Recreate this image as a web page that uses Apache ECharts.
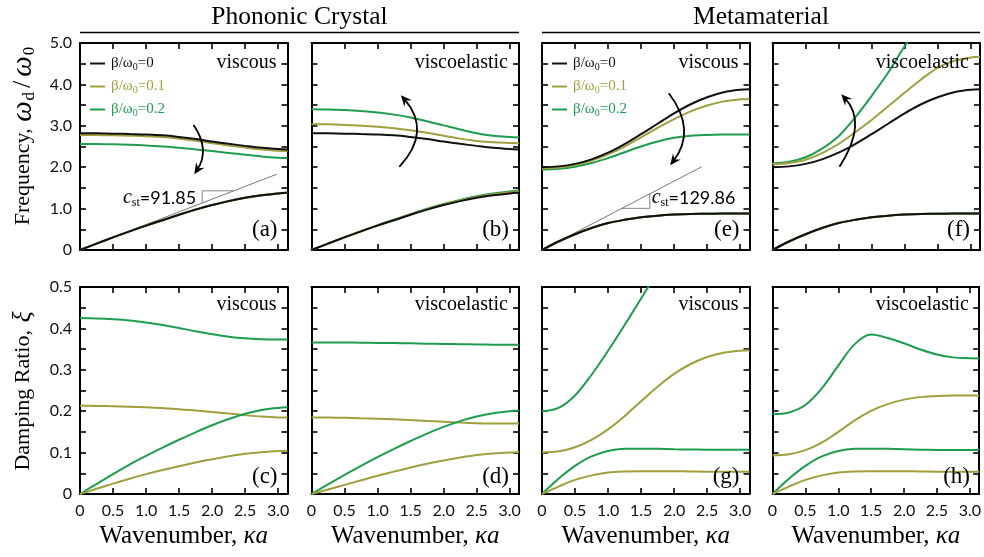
<!DOCTYPE html>
<html><head><meta charset="utf-8">
<script src="https://cdn.jsdelivr.net/npm/echarts@6/dist/echarts.min.js"></script>
<style>html,body{margin:0;padding:0;background:#fff}#c{width:984px;height:557px}</style>
</head><body><div id="c"></div>
<script>
// ---------- DATA ----------
const ka = [0, 0.25, 0.5, 0.75, 1.0, 1.25, 1.5, 1.75, 2.0, 2.25, 2.5, 2.75, 3.0, 3.14159];
const seriesNames = ['β/ω₀=0', 'β/ω₀=0.1', 'β/ω₀=0.2'];
const headerTexts = ['Phononic Crystal', 'Metamaterial'];
const panelLetters = ['(a)', '(b)', '(e)', '(f)', '(c)', '(d)', '(g)', '(h)'];
const panelTypes = ['viscous', 'viscoelastic', 'viscous', 'viscoelastic', 'viscous', 'viscoelastic', 'viscous', 'viscoelastic'];
const freqTicks = [0, 1, 2, 3, 4, 5];
const dampTicks = [0, 0.1, 0.2, 0.3, 0.4, 0.5];
const kaTicks = [0, 0.5, 1.0, 1.5, 2.0, 2.5, 3.0];

// (a) phononic crystal, viscous – frequency
const aOpt0 = [2.82, 2.818, 2.81, 2.80, 2.79, 2.77, 2.73, 2.68, 2.62, 2.565, 2.515, 2.47, 2.44, 2.43];
const aOpt1 = [2.78, 2.778, 2.77, 2.76, 2.75, 2.73, 2.69, 2.64, 2.58, 2.525, 2.475, 2.43, 2.40, 2.39];
const aOpt2 = [2.56, 2.558, 2.552, 2.542, 2.525, 2.50, 2.47, 2.43, 2.39, 2.345, 2.30, 2.26, 2.23, 2.22];
const aAc0 = [0, 0.154, 0.305, 0.45, 0.59, 0.72, 0.85, 0.975, 1.085, 1.18, 1.26, 1.32, 1.365, 1.38];
const aAc1 = [0, 0.154, 0.305, 0.45, 0.59, 0.72, 0.85, 0.975, 1.085, 1.18, 1.26, 1.32, 1.367, 1.385];
const aAc2 = [0, 0.154, 0.306, 0.451, 0.591, 0.722, 0.852, 0.977, 1.088, 1.183, 1.263, 1.325, 1.372, 1.39];
// (b) phononic crystal, viscoelastic – frequency
const bOpt0 = [2.82, 2.818, 2.81, 2.80, 2.79, 2.77, 2.73, 2.68, 2.62, 2.565, 2.515, 2.47, 2.44, 2.43];
const bOpt1 = [3.04, 3.035, 3.022, 3.003, 2.977, 2.94, 2.89, 2.83, 2.76, 2.69, 2.635, 2.60, 2.585, 2.58];
const bOpt2 = [3.40, 3.395, 3.38, 3.355, 3.32, 3.27, 3.20, 3.11, 3.01, 2.91, 2.82, 2.76, 2.73, 2.72];
const bAc0 = [0, 0.154, 0.305, 0.45, 0.59, 0.72, 0.85, 0.975, 1.085, 1.18, 1.26, 1.32, 1.365, 1.38];
const bAc1 = [0, 0.155, 0.307, 0.453, 0.594, 0.726, 0.857, 0.985, 1.097, 1.195, 1.28, 1.345, 1.39, 1.41];
const bAc2 = [0, 0.156, 0.31, 0.457, 0.60, 0.733, 0.866, 0.995, 1.11, 1.21, 1.297, 1.365, 1.415, 1.44];
// (e) metamaterial, viscous – frequency
const eOpt0 = [2.00, 2.02, 2.08, 2.19, 2.35, 2.56, 2.80, 3.05, 3.30, 3.52, 3.69, 3.81, 3.87, 3.88];
const eOpt1 = [1.97, 1.99, 2.05, 2.16, 2.31, 2.50, 2.72, 2.95, 3.16, 3.35, 3.49, 3.59, 3.64, 3.65];
const eOpt2 = [1.94, 1.96, 2.01, 2.10, 2.22, 2.36, 2.50, 2.62, 2.71, 2.76, 2.78, 2.79, 2.79, 2.79];
const eAc0 = [0, 0.205, 0.38, 0.53, 0.65, 0.73, 0.79, 0.83, 0.855, 0.87, 0.875, 0.88, 0.88, 0.88];
const eAc1 = [0, 0.205, 0.38, 0.53, 0.65, 0.73, 0.79, 0.83, 0.855, 0.87, 0.875, 0.88, 0.88, 0.88];
const eAc2 = [0, 0.205, 0.38, 0.53, 0.65, 0.73, 0.79, 0.83, 0.855, 0.87, 0.875, 0.88, 0.88, 0.88];
// (f) metamaterial, viscoelastic – frequency
const fOpt0 = [2.00, 2.02, 2.08, 2.19, 2.35, 2.56, 2.80, 3.05, 3.30, 3.52, 3.69, 3.81, 3.87, 3.88];
const fOpt1 = [2.07, 2.10, 2.18, 2.34, 2.56, 2.84, 3.14, 3.47, 3.80, 4.12, 4.40, 4.57, 4.65, 4.67];
const fOpt2 = [2.09, 2.13, 2.24, 2.45, 2.75, 3.20, 3.72, 4.28, 4.92, 5.50, 6.00];
const fAc0 = [0, 0.205, 0.38, 0.53, 0.65, 0.73, 0.79, 0.83, 0.855, 0.87, 0.875, 0.88, 0.88, 0.88];
const fAc1 = [0, 0.205, 0.38, 0.53, 0.65, 0.73, 0.79, 0.83, 0.855, 0.87, 0.875, 0.88, 0.88, 0.88];
const fAc2 = [0, 0.205, 0.38, 0.53, 0.65, 0.73, 0.79, 0.83, 0.855, 0.87, 0.875, 0.88, 0.88, 0.88];
// (c) phononic crystal, viscous – damping
const cUp1 = [0.213, 0.2128, 0.212, 0.211, 0.2095, 0.2075, 0.205, 0.2015, 0.198, 0.1945, 0.1905, 0.187, 0.1848, 0.1845];
const cUp2 = [0.425, 0.424, 0.422, 0.419, 0.414, 0.408, 0.401, 0.393, 0.386, 0.380, 0.376, 0.374, 0.373, 0.373];
const cLo1 = [0, 0.0125, 0.025, 0.037, 0.048, 0.058, 0.067, 0.076, 0.084, 0.091, 0.097, 0.101, 0.104, 0.1045];
const cLo2 = [0, 0.024, 0.048, 0.071, 0.092, 0.112, 0.131, 0.149, 0.166, 0.181, 0.194, 0.203, 0.208, 0.2095];
// (d) phononic crystal, viscoelastic – damping
const dUp1 = [0.1846, 0.1845, 0.184, 0.183, 0.182, 0.1805, 0.1785, 0.1765, 0.1745, 0.1725, 0.171, 0.1703, 0.170, 0.170];
const dUp2 = [0.366, 0.366, 0.3658, 0.3655, 0.365, 0.3645, 0.364, 0.3632, 0.3625, 0.3618, 0.3612, 0.3607, 0.3605, 0.3605];
const dLo1 = [0, 0.011, 0.022, 0.033, 0.044, 0.054, 0.064, 0.073, 0.081, 0.088, 0.094, 0.098, 0.1005, 0.101];
const dLo2 = [0, 0.023, 0.046, 0.068, 0.089, 0.109, 0.128, 0.146, 0.162, 0.176, 0.187, 0.195, 0.2, 0.2014];
// (g) metamaterial, viscous – damping
const gUp1 = [0.100, 0.103, 0.113, 0.131, 0.156, 0.188, 0.224, 0.259, 0.290, 0.314, 0.331, 0.341, 0.346, 0.347];
const gUp2 = [0.200, 0.208, 0.238, 0.288, 0.346, 0.408, 0.472, 0.537, 0.602];
const gLo1 = [0, 0.018, 0.034, 0.045, 0.052, 0.0545, 0.055, 0.055, 0.0548, 0.0545, 0.054, 0.054, 0.054, 0.054];
const gLo2 = [0, 0.037, 0.068, 0.091, 0.104, 0.109, 0.1095, 0.109, 0.108, 0.1075, 0.107, 0.107, 0.107, 0.107];
// (h) metamaterial, viscoelastic – damping
const hUp1 = [0.093, 0.096, 0.106, 0.124, 0.150, 0.178, 0.201, 0.217, 0.228, 0.234, 0.237, 0.238, 0.238, 0.238];
const hUp2 = [0.193, 0.197, 0.215, 0.255, 0.310, 0.362, 0.385, 0.377, 0.364, 0.349, 0.337, 0.330, 0.328, 0.3275];
const hLo1 = [0, 0.018, 0.034, 0.045, 0.052, 0.0545, 0.055, 0.055, 0.0548, 0.0545, 0.054, 0.054, 0.054, 0.054];
const hLo2 = [0, 0.037, 0.068, 0.091, 0.104, 0.109, 0.1095, 0.109, 0.108, 0.107, 0.1065, 0.106, 0.106, 0.106];

// static-wave-speed annotations (data coordinates)
const cstLineA = [[0, 0], [2.98, 1.83]];
const cstTriA = [[1.85, 1.136], [1.85, 1.43], [2.32, 1.43]];
const cstLineE = [[0, 0], [2.417, 2.01]];
const cstTriE = [[1.206, 1.006], [1.633, 1.006], [1.633, 1.362]];
const cstValues = ['91.85', '129.86'];
const cstAnchors = [[1.76, 1.256], [1.66, 1.256]];
// curved arrows (start, middle, tip) in data coordinates of panels a, b, e, f
const arrowPts = [
  [[1.72, 3.02], [1.85, 2.42], [1.73, 1.83]],
  [[1.33, 2.01], [1.586, 2.87], [1.354, 3.74]],
  [[1.92, 3.785], [2.14, 2.90], [1.94, 2.05]],
  [[1.014, 2.01], [1.237, 2.98], [1.04, 3.76]]
];

// ---------- STYLE / LAYOUT ----------
const COLORS = ['#111111', '#9f9f3e', '#1f9d4f'];
const SERIF = '"Liberation Serif", "DejaVu Serif", serif';
const SANS = 'Lato, "Open Sans", sans-serif';
const gridL = [80, 311.5, 542, 772.5];
const gridW = 207.5;
const gridT = [43, 287];
const gridH = 207;

const panelCurves = [
  [[aOpt2, 2], [aOpt1, 1], [aOpt0, 0], [aAc2, 2], [aAc1, 1], [aAc0, 0]],
  [[bOpt2, 2], [bOpt1, 1], [bOpt0, 0], [bAc2, 2], [bAc1, 1], [bAc0, 0]],
  [[eOpt2, 2], [eOpt1, 1], [eOpt0, 0], [eAc2, 2], [eAc1, 1], [eAc0, 0]],
  [[fOpt2, 2], [fOpt1, 1], [fOpt0, 0], [fAc2, 2], [fAc1, 1], [fAc0, 0]],
  [[cUp2, 2], [cUp1, 1], [cLo2, 2], [cLo1, 1]],
  [[dUp2, 2], [dUp1, 1], [dLo2, 2], [dLo1, 1]],
  [[gUp2, 2], [gUp1, 1], [gLo2, 2], [gLo1, 1]],
  [[hUp2, 2], [hUp1, 1], [hLo2, 2], [hLo1, 1]]
];

const nameRich = {
  n: {fontFamily: SERIF, fontSize: 22, color: '#000', lineHeight: 30},
  i: {fontFamily: SERIF, fontSize: 29, color: '#000', fontStyle: 'italic', lineHeight: 30, padding: [0, 1, 0, 1]},
  x: {fontFamily: SERIF, fontSize: 26, color: '#000', fontStyle: 'italic', lineHeight: 30, padding: [0, 1, 0, 2]},
  sl: {fontFamily: SERIF, fontSize: 26, color: '#000', lineHeight: 30, padding: [0, 3, 0, 3]},
  s: {fontFamily: SERIF, fontSize: 17, color: '#000', lineHeight: 16, verticalAlign: 'bottom', padding: [0, 1, 0, 0]}
};
const xNameRich = {
  n: {fontFamily: SERIF, fontSize: 25, color: '#000'},
  i: {fontFamily: SERIF, fontSize: 25, color: '#000', fontStyle: 'italic'}
};

const grids = [], xAxes = [], yAxes = [], series = [];
const tickStyle = {show: true, inside: true, length: 6, lineStyle: {color: '#000', width: 1.6}};
const lineStyleAx = {show: true, onZero: false, lineStyle: {color: '#000', width: 2}};

for (let g = 0; g < 8; g++) {
  const row = g < 4 ? 0 : 1, col = g % 4;
  grids.push({left: gridL[col], top: gridT[row], width: gridW, height: gridH, containLabel: false});
  const xBase = {gridIndex: g, type: 'value', min: 0, max: Math.PI, interval: 0.5,
    axisLine: lineStyleAx, axisTick: tickStyle, splitLine: {show: false}};
  xAxes.push(Object.assign({}, xBase, {position: 'bottom',
    axisLabel: {show: row === 1, margin: 9, fontFamily: SANS, fontSize: 16, color: '#111',
      formatter: v => v === 0 ? '0' : (kaTicks.some(t => Math.abs(t - v) < 1e-6) ? v.toFixed(1) : '')},
    name: row === 1 ? '{n|Wavenumber, }{i|κa}' : '', nameLocation: 'middle', nameGap: 30,
    nameTextStyle: {rich: xNameRich}}));
  xAxes.push(Object.assign({}, xBase, {position: 'top', axisLabel: {show: false}}));
  const ymax = row === 0 ? 5 : 0.5, yint = row === 0 ? 0.5 : 0.05;
  const yTicks = row === 0 ? freqTicks : dampTicks;
  const yBase = {gridIndex: g, type: 'value', min: 0, max: ymax, interval: yint,
    axisLine: lineStyleAx, axisTick: tickStyle, splitLine: {show: false}};
  const yName = col === 0 ? (row === 0 ? '{n|Frequency, }{i|ω}{s|d}{sl|/}{i|ω}{s|0}' : '{n|Damping Ratio, }{x|ξ}') : '';
  yAxes.push(Object.assign({}, yBase, {position: 'left',
    axisLabel: {show: col === 0, margin: 8, fontFamily: SANS, fontSize: 16, color: '#111',
      formatter: v => v === 0 ? '0' : (yTicks.some(t => Math.abs(t - v) < 1e-6) ? v.toFixed(1) : '')},
    name: yName, nameLocation: 'middle', nameGap: 42,
    nameTextStyle: {rich: nameRich, padding: row === 0 ? [0, 0, 0, 22] : [0, 0, 0, 0]}}));
  yAxes.push(Object.assign({}, yBase, {position: 'right', axisLabel: {show: false}}));

  panelCurves[g].forEach(([vals, ci]) => {
    series.push({
      type: 'line', name: seriesNames[ci], xAxisIndex: 2 * g, yAxisIndex: 2 * g,
      data: vals.map((v, i) => [ka[i], v]), smooth: 0.35, showSymbol: false, symbol: 'none',
      clip: true, silent: true, color: COLORS[ci],
      lineStyle: {color: COLORS[ci], width: 2}, z: 3
    });
  });
}
// c_st guide lines and triangles
[[0, cstLineA, cstTriA], [2, cstLineE, cstTriE]].forEach(([g, ln, tri]) => {
  series.push({type: 'line', name: 'cst', xAxisIndex: 2 * g, yAxisIndex: 2 * g, data: ln,
    showSymbol: false, symbol: 'none', silent: true, lineStyle: {color: '#555', width: 0.8}, z: 1});
  series.push({type: 'line', name: 'cst', xAxisIndex: 2 * g, yAxisIndex: 2 * g, data: tri,
    showSymbol: false, symbol: 'none', silent: true, lineStyle: {color: '#666', width: 0.8}, z: 1});
});

function legendFor(left) {
  const rich = {};
  COLORS.forEach((c, i) => {
    rich['t' + i] = {color: c, fontFamily: SERIF, fontSize: 15, lineHeight: 18};
    rich['s' + i] = {color: c, fontFamily: SERIF, fontSize: 10, lineHeight: 12, verticalAlign: 'bottom'};
  });
  return {
    left: left, top: 56, orient: 'vertical', itemGap: 6.5, itemWidth: 15, itemHeight: 2, padding: 0,
    icon: 'rect', selectedMode: false,
    data: seriesNames.map((n, i) => ({name: n, textStyle: {color: COLORS[i]}})),
    formatter: name => {
      const i = seriesNames.indexOf(name);
      return '{t' + i + '|β/ω}{s' + i + '|0}{t' + i + '|=' + name.split('=')[1] + '}';
    },
    textStyle: {rich: rich, padding: [0, 0, 0, 1]}
  };
}

const chart = echarts.init(document.getElementById('c'), null, {renderer: 'canvas'});
chart.setOption({
  animation: false,
  backgroundColor: '#fff',
  grid: grids, xAxis: xAxes, yAxis: yAxes, series: series,
  legend: [legendFor(gridL[0] + 10), legendFor(gridL[2] + 10)]
});

// ---------- annotations ----------
const gr = [];
function text(x, y, str, size, align, vAlign, extra) {
  return {type: 'text', x: x, y: y, silent: true, z: 10,
    style: Object.assign({text: str, fontFamily: SERIF, fontSize: size, fill: '#000',
      align: align, verticalAlign: vAlign, textAlign: align, textVerticalAlign: vAlign}, extra || {})};
}
// headers
const headerSpans = [[gridL[0], gridL[1] + gridW], [gridL[2], gridL[3] + gridW]];
headerSpans.forEach((sp, i) => {
  gr.push(text((sp[0] + sp[1]) / 2, 17, headerTexts[i], 25.5, 'center', 'middle'));
  gr.push({type: 'line', silent: true, shape: {x1: sp[0], y1: 32.5, x2: sp[1], y2: 32.5},
    style: {stroke: '#000', lineWidth: 1.5}});
});
// panel type + letter
for (let g = 0; g < 8; g++) {
  const row = g < 4 ? 0 : 1, col = g % 4;
  const rx = gridL[col] + gridW - 11;
  gr.push(text(rx, gridT[row] + (row === 0 ? 20 : 18), panelTypes[g], 20, 'right', 'middle'));
  gr.push(text(rx + 1, gridT[row] + gridH - (row === 0 ? 20 : 17), panelLetters[g], 23, 'right', 'middle'));
}
// c_st labels
const cstRich = {
  c: {fontFamily: SERIF, fontSize: 20, fontStyle: 'italic', fill: '#000', color: '#000', lineHeight: 22},
  st: {fontFamily: SERIF, fontSize: 12, fill: '#000', color: '#000', lineHeight: 12, verticalAlign: 'bottom'},
  v: {fontFamily: SANS, fontSize: 18, fill: '#000', color: '#000', lineHeight: 22}
};
[[0, 'right'], [2, 'left']].forEach(([g, al], k) => {
  const p = chart.convertToPixel({gridIndex: g}, cstAnchors[k]);
  gr.push(text(p[0], p[1], '{c|c}{st|st}{v|=' + cstValues[k] + '}', 18, al, 'middle', {rich: cstRich}));
});
// curved arrows
[0, 1, 2, 3].forEach((g, k) => {
  const [S, M, E] = arrowPts[k].map(p => chart.convertToPixel({gridIndex: g}, p));
  const C = [2 * M[0] - (S[0] + E[0]) / 2, 2 * M[1] - (S[1] + E[1]) / 2];
  let dx = E[0] - C[0], dy = E[1] - C[1];
  const len = Math.hypot(dx, dy); dx /= len; dy /= len;
  const nx = -dy, ny = dx, L = 11, W = 5;
  const bx = E[0] - dx * L, by = E[1] - dy * L;
  gr.push({type: 'bezierCurve', silent: true, z: 9,
    shape: {x1: S[0], y1: S[1], cpx1: C[0], cpy1: C[1], x2: E[0] - dx * 5, y2: E[1] - dy * 5},
    style: {stroke: '#000', lineWidth: 1.8, fill: null}});
  gr.push({type: 'polygon', silent: true, z: 9,
    shape: {points: [[E[0], E[1]], [bx + nx * W, by + ny * W], [E[0] - dx * L * 0.65, E[1] - dy * L * 0.65], [bx - nx * W, by - ny * W]]},
    style: {fill: '#000'}});
});
chart.setOption({graphic: {elements: gr}});
</script>
</body></html>
